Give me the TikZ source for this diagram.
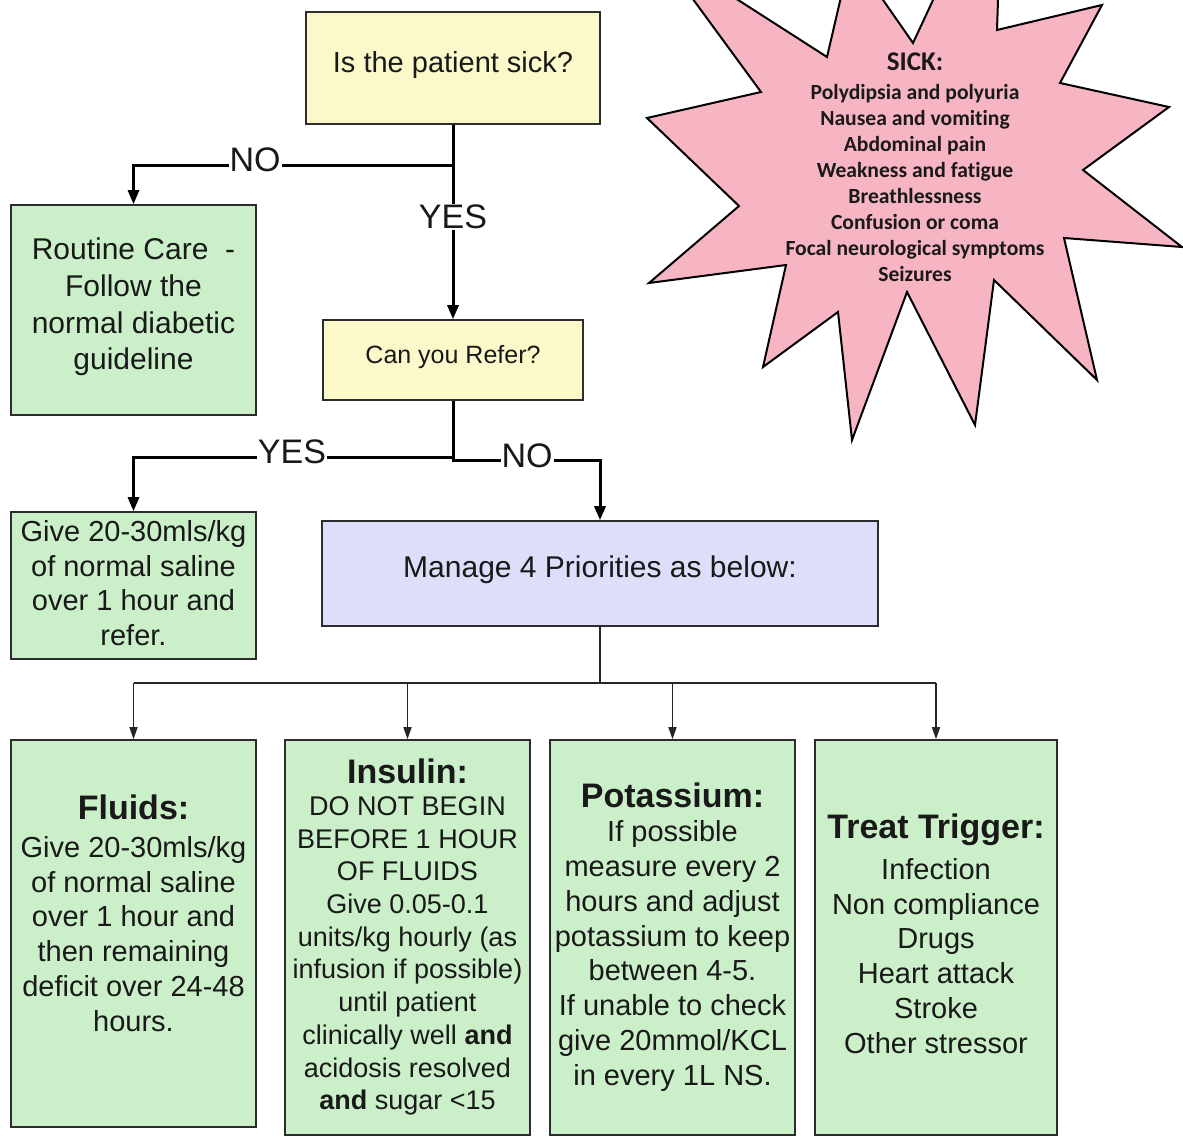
\documentclass[tikz,border=0pt]{standalone}
\usepackage{fontspec}
\setmainfont{Liberation Sans}
\newfontfamily\calib[Ligatures=NoCommon]{Carlito}
\usetikzlibrary{arrows.meta}
\definecolor{boxyellow}{RGB}{251,248,202}
\definecolor{boxgreen}{RGB}{203,240,201}
\definecolor{boxblue}{RGB}{221,223,250}
\definecolor{starpink}{RGB}{247,181,196}
\definecolor{edgegray}{RGB}{45,45,45}
\definecolor{ink}{RGB}{25,25,25}
\newcommand{\fs}[2]{\fontsize{#1}{#2}\selectfont}
\begin{document}
\begin{tikzpicture}[x=1pt,y=-1pt,
  box/.style={draw=edgegray, line width=1.6pt, inner sep=0pt},
  ybox/.style={box, fill=boxyellow},
  gbox/.style={box, fill=boxgreen},
  bbox/.style={box, fill=boxblue},
  txt/.style={align=center, inner sep=0pt, text=ink},
  ttl/.style={txt, font=\bfseries\fs{34}{40}},
  lbl/.style={fill=white, inner sep=1pt, text=ink, font=\fs{34}{38}},
  mainline/.style={line width=3pt, draw=black},
  mainarrow/.style={mainline, -{Triangle[length=14pt,width=11pt]}},
  thinline/.style={line width=1.5pt, draw=black!85},
  thinarrow/.style={thinline, -{Triangle[length=12pt,width=8pt]}},
]
\useasboundingbox (0,0) rectangle (1183,1140);

% starburst
\begin{scope}
\clip (0,0) rectangle (1183,1140);
\draw[line width=2pt, fill=starpink, line join=miter]
  (1102,5) -- (1060,83) -- (1169,107) -- (1083,170) -- (1182,247) -- (1064,238)
  -- (1097,380) -- (994,280) -- (975,425) -- (907,292) -- (852,440) -- (838,312)
  -- (763,367) -- (786,265) -- (649,283) -- (739,206) -- (647,118) -- (761,92)
  -- (654,-54) -- (827,57) -- (851,-46) -- (913,43) -- (1003,-150) -- (997,30) -- cycle;
\end{scope}
\node[txt, font=\calib\bfseries\fs{27}{30}] (sicktitle) at (915,62) {SICK:};
\node[txt, font=\calib\bfseries\fs{21.6}{26}] (sicklist) at (915,183) {Polydipsia and polyuria\\Nausea and vomiting\\Abdominal pain\\Weakness and fatigue\\Breathlessness\\Confusion or coma\\Focal neurological symptoms\\Seizures};

% boxes
\node[ybox, minimum width=294pt, minimum height=112pt] (sick) at (453,68) {};
\node[txt, font=\fs{29}{34}] (sicktxt) at (453,65) {Is the patient sick?};

\node[gbox, minimum width=245pt, minimum height=210pt] (routine) at (133.5,310) {};
\node[txt, font=\fs{30}{36.7}] (routinetxt) at (133.5,307) {Routine Care~~-\\Follow the\\normal diabetic\\guideline};

\node[ybox, minimum width=260pt, minimum height=80pt] (refer) at (453,360) {};
\node[txt, font=\fs{25}{30}] (refertxt) at (453,357) {Can you Refer?};

\node[gbox, minimum width=245pt, minimum height=147pt] (give) at (133.5,585.5) {};
\node[txt, font=\fs{29}{34.7}] (givetxt) at (133.5,583) {Give 20-30mls/kg\\of normal saline\\over 1 hour and\\refer.};

\node[bbox, minimum width=556pt, minimum height=105pt] (manage) at (600,573.5) {};
\node[txt, font=\fs{30}{36}] (managetxt) at (600,570) {Manage 4 Priorities as below:};

\node[gbox, minimum width=245pt, minimum height=387pt] (fluids) at (133.5,933.5) {};
\node[ttl] (fluidsttl) at (133.5,807) {Fluids:};
\node[txt, font=\fs{29}{34.8}] (fluidstxt) at (133.5,934) {Give 20-30mls/kg\\of normal saline\\over 1 hour and\\then remaining\\deficit over 24-48\\hours.};

\node[gbox, minimum width=245pt, minimum height=395pt] (insulin) at (407.5,937.5) {};
\node[ttl] (insulinttl) at (407.5,771) {Insulin:};
\node[txt, font=\fs{27}{32.7}] (insulintxt) at (407.5,956) {DO NOT BEGIN\\BEFORE 1 HOUR\\OF FLUIDS\\Give 0.05-0.1\\units/kg hourly (as\\infusion if possible)\\until patient\\clinically well \textbf{and}\\acidosis resolved\\\textbf{and} sugar <15};

\node[gbox, minimum width=245pt, minimum height=395pt] (potassium) at (672.5,937.5) {};
\node[ttl] (potassiumttl) at (672.5,795) {Potassium:};
\node[txt, font=\fs{29}{34.85}] (potassiumtxt) at (672.5,956) {If possible\\measure every 2\\hours and adjust\\potassium to keep\\between 4-5.\\If unable to check\\give 20mmol/KCL\\in every 1L NS.};

\node[gbox, minimum width=242pt, minimum height=395pt] (trigger) at (936,937.5) {};
\node[ttl] (triggerttl) at (936,830) {Treat Trigger:};
\node[txt, font=\fs{29}{34.8}] (triggertxt) at (936,956) {Infection\\Non compliance\\Drugs\\Heart attack\\Stroke\\Other stressor};

% connectors top
\coordinate (j1) at (453,165);
\draw[mainline] (sick.south) -- (j1);
\draw[mainarrow] (j1) -- (j1 -| routine) -- (routine.north);
\draw[mainarrow] (j1) -- (refer.north);
\node[lbl] (no1) at (255,160) {NO};
\node[lbl] (yes1) at (453,217) {YES};

\coordinate (j2) at (453,457);
\coordinate (j3) at (453,460);
\draw[mainline] (refer.south) -- (j2);
\draw[mainarrow] (j2) -- (j2 -| give) -- (give.north);
\draw[mainarrow] (j2) -- (j3) -- (j3 -| manage) -- (manage.north);
\node[lbl] (yes2) at (292,452) {YES};
\node[lbl] (no2) at (527,456) {NO};

% connectors bottom
\coordinate (j4) at (600,683);
\draw[thinline] (manage.south) -- (j4);
\draw[thinline] (j4 -| fluids) -- (j4 -| trigger);
\draw[thinarrow] (j4 -| fluids) -- (fluids.north);
\draw[thinarrow] (j4 -| insulin) -- (insulin.north);
\draw[thinarrow] (j4 -| potassium) -- (potassium.north);
\draw[thinarrow] (j4 -| trigger) -- (trigger.north);
\end{tikzpicture}
\end{document}
